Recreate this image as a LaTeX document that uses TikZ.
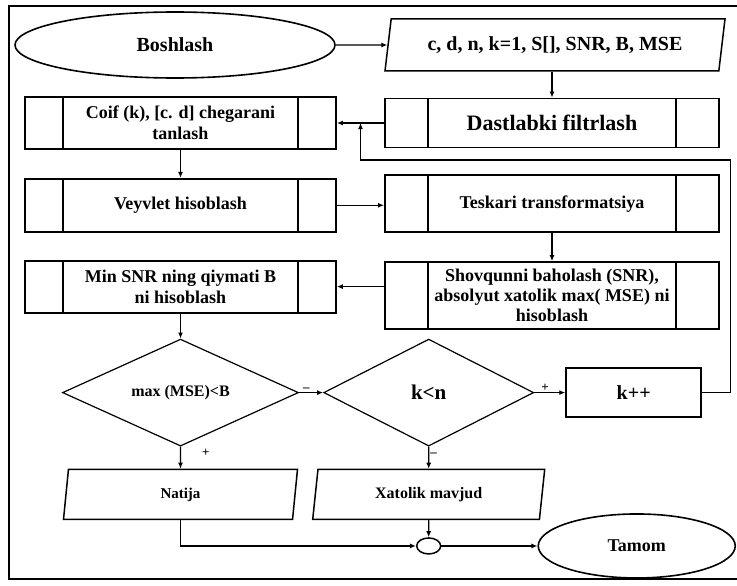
\documentclass[tikz,border=0pt]{standalone}
\usepackage{fontspec}
\setmainfont{Liberation Serif}
\usetikzlibrary{shapes.geometric,positioning,arrows.meta,calc}

\begin{document}
\begin{tikzpicture}[
    x=1pt, y=-1pt,
    node distance=26pt and 30pt,
    txt/.style={font=\fontsize{18}{21}\selectfont\bfseries, align=center},
    term/.style={ellipse, draw, line width=1.6pt, inner sep=0pt, minimum width=320pt, minimum height=66pt, txt},
    io/.style={trapezium, trapezium left angle=70, trapezium right angle=110, trapezium stretches body, draw, line width=1.5pt, inner sep=0pt, minimum height=50pt, txt},
    subproc/.style={rectangle, draw, line width=1.8pt, inner sep=0pt, minimum width=311pt, minimum height=52pt, txt,
        path picture={\draw[line width=1.4pt] ([xshift=#1]path picture bounding box.north west) -- ([xshift=#1]path picture bounding box.south west)
            ([xshift=-#1]path picture bounding box.north east) -- ([xshift=-#1]path picture bounding box.south east);}},
    subproc/.default=38pt,
    decision/.style={diamond, aspect=2.1, draw, line width=1.2pt, inner sep=0pt, minimum width=236pt, minimum height=107pt, txt},
    process/.style={rectangle, draw, line width=1.8pt, minimum width=135pt, minimum height=49pt, txt},
    junction/.style={ellipse, draw, line width=1.5pt, minimum width=24pt, minimum height=16pt, inner sep=0pt},
    arrow/.style={-{Latex[length=6pt, width=5pt]}, line width=1.2pt},
    lbl/.style={font=\fontsize{13}{13}\selectfont\bfseries, inner sep=1pt},
]
\useasboundingbox (0,0) rectangle (737,586);
\draw[line width=1.2pt] (737,6) -- (9,6) -- (9,579) -- (737,579);

% Nodes
\node[term, font=\fontsize{20}{22}\selectfont\bfseries] (start) at (175,45) {Boshlash};
\node[io, minimum width=340pt, minimum height=52pt, font=\fontsize{20}{22}\selectfont\bfseries] (input) at (555,45) {c, d, n, k=1, S[], SNR, B, MSE};
\node[subproc=43pt, minimum width=334pt, minimum height=49pt, font=\fontsize{22}{24}\selectfont\bfseries] (dast) at (552,123) {Dastlabki filtrlash};
\node[subproc] (coif) at (180.5,123) {Coif (k), [c. d] chegarani\\tanlash};
\node[subproc, minimum height=53pt, below=28pt of coif] (veyv) {Veyvlet hisoblash};
\node[subproc=43pt, minimum width=334pt, minimum height=57pt, below=26pt of dast] (tesk) {Teskari transformatsiya};
\node[subproc=43pt, minimum width=334pt, minimum height=67pt, below=28pt of tesk, font=\fontsize{18}{20}\selectfont\bfseries] (shov) {Shovqunni baholash (SNR),\\absolyut xatolik max( MSE) ni\\hisoblash};
\node[subproc, below=27pt of veyv] (minsnr) {Min SNR ning qiymati B\\ni hisoblash};
\node[decision, below=25pt of minsnr, font=\fontsize{16}{18}\selectfont\bfseries] (dec1) {max (MSE)<B};
\node[decision, minimum width=210pt, right=24pt of dec1, font=\fontsize{21}{23}\selectfont\bfseries] (dec2) {k<n};
\node[process, right=31pt of dec2, font=\fontsize{20}{22}\selectfont\bfseries] (kpp) {k++};
\node[io, minimum width=234pt, below=22pt of dec1, font=\fontsize{15}{17}\selectfont\bfseries] (natija) {Natija};
\node[io, minimum width=232pt, below=22pt of dec2, font=\fontsize{16}{18}\selectfont\bfseries] (xatolik) {Xatolik mavjud};
\node[junction, below=17pt of xatolik] (junc) {};
\node[term, minimum width=197pt, minimum height=64pt, right=96pt of junc] (tamom) {Tamom};
\coordinate (mid) at ($(dast.west)!0.5!(coif.east)$);

% Connectors
\draw[arrow] (start.east) -- (input.west);
\draw[arrow] (input.south -| dast) -- (dast);
\draw[arrow] (dast.west) -- (coif.east);
\draw[arrow] (kpp.east) -- ++(28,0) |- ($(mid)+(0,37)$) -- (mid);
\draw[arrow] (coif) -- (veyv);
\draw[arrow] (veyv.east) -- (veyv.east -| tesk.west);
\draw[arrow] (tesk) -- (shov);
\draw[arrow] (shov.west |- minsnr) -- (minsnr);
\draw[arrow] (minsnr) -- (dec1);
\draw[arrow] (dec1) -- node[lbl, above, pos=0.3] {–} (dec2);
\draw[arrow] (dec2) -- node[lbl, above, pos=0.35] {+} (kpp);
\draw[arrow] (dec1) -- node[lbl, right=20pt, pos=0.3] {+} (natija);
\draw[arrow] (dec2) -- node[lbl, right, pos=0.35] {–} (xatolik);
\draw[arrow] (natija) |- (junc);
\draw[arrow] (xatolik) -- (junc);
\draw[arrow] (junc) -- (tamom);

\end{tikzpicture}
\end{document}
